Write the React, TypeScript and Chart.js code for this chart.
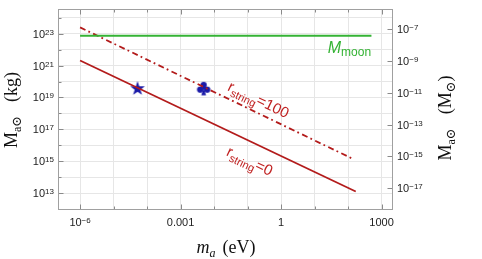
import React, { useEffect, useRef } from "react";
import { Chart, registerables } from "chart.js";
Chart.register(...registerables);

const KG_PER_MSUN = 1.989e30;

// axis ranges (eV, kg)
const X_RANGE = [2.35e-7, 2.2e3];
const Y_RANGE = [8.7e11, 3.55e24];

// series
const moonX = [1e-6, 500];
const moonY = [7.35e22, 7.35e22];
const r0X = [1e-6, 170];
const r0Y = [2.1e21, 1.25e13];
const r100X = [1e-6, 150];
const r100Y = [2.5e23, 1.3e15];
const starX = [5.2e-5];
const starY = [3.9e19];
const clubX = [4.9e-3];
const clubY = [3.5e19];

// ticks
const xGridExps = [-6, -5, -4, -3, -2, -1, 0, 1, 2, 3];
const xTickVals = [1e-6, 1e-3, 1, 1e3];
const xTickLabels = ["10^−6", "0.001", "1", "1000"];
const yGridExps = [12, 13, 14, 15, 16, 17, 18, 19, 20, 21, 22, 23, 24];
const yLeftExps = [13, 15, 17, 19, 21, 23];
const yRightExps = [-17, -15, -13, -11, -9, -7];

const RED = "#b31b1b";
const GREEN = "#35b335";
const BLUE = "#1a1aa8";
const SANS = '"Liberation Sans", Arial, sans-serif';
const SERIF = '"Liberation Serif", "Times New Roman", serif';

type Part = { t: string; font: string; dy?: number; gap?: number; color?: string };

function drawRich(ctx: CanvasRenderingContext2D, parts: Part[], x: number, y: number, align: "left" | "center" | "right") {
  let w = 0;
  for (const p of parts) {
    ctx.font = p.font;
    w += (p.gap || 0) + (p.t ? ctx.measureText(p.t).width : 0);
  }
  let cx = align === "left" ? x : align === "center" ? x - w / 2 : x - w;
  ctx.textBaseline = "alphabetic";
  ctx.textAlign = "left";
  for (const p of parts) {
    ctx.font = p.font;
    cx += p.gap || 0;
    if (p.t) {
      const prev = ctx.fillStyle;
      if (p.color) ctx.fillStyle = p.color;
      ctx.fillText(p.t, cx, y + (p.dy || 0));
      ctx.fillStyle = prev;
      cx += ctx.measureText(p.t).width;
    }
  }
}

function powParts(label: string): Part[] {
  if (label.startsWith("10^")) {
    return [
      { t: "10", font: `11px ${SANS}` },
      { t: label.slice(3), font: `8px ${SANS}`, dy: -3 },
    ];
  }
  return [{ t: label, font: `11px ${SANS}` }];
}

function makeStar(color: string) {
  const c = document.createElement("canvas");
  c.width = 18;
  c.height = 18;
  const g = c.getContext("2d")!;
  g.fillStyle = color;
  g.beginPath();
  for (let i = 0; i < 10; i++) {
    const rad = i % 2 ? 3.0 : 7.6;
    const ang = -Math.PI / 2 + (i * Math.PI) / 5;
    const px = 9 + rad * Math.cos(ang);
    const py = 9.7 + rad * Math.sin(ang);
    if (i) g.lineTo(px, py);
    else g.moveTo(px, py);
  }
  g.closePath();
  g.fill();
  return c;
}

function makeClub(color: string) {
  const c = document.createElement("canvas");
  c.width = 20;
  c.height = 20;
  const g = c.getContext("2d")!;
  g.fillStyle = color;
  const r = 3.1;
  const circ = (x: number, y: number) => {
    g.beginPath();
    g.arc(x, y, r, 0, Math.PI * 2);
    g.fill();
  };
  circ(10, 6);
  circ(6.4, 10.8);
  circ(13.6, 10.8);
  g.beginPath();
  g.moveTo(10, 6);
  g.lineTo(6.4, 10.8);
  g.lineTo(13.6, 10.8);
  g.closePath();
  g.fill();
  g.beginPath();
  g.moveTo(10, 9);
  g.lineTo(7.6, 16.6);
  g.lineTo(12.4, 16.6);
  g.closePath();
  g.fill();
  return c;
}

const pts = (xs: number[], ys: number[]) => xs.map((x, i) => ({ x, y: ys[i] }));

const decor = {
  id: "decor",
  afterDraw(chart: any) {
    const { ctx, chartArea: a, scales } = chart;
    const sx = scales.x, sy = scales.y, sy2 = scales.y2;
    const L = Math.round(a.left) - 0.5, R = Math.round(a.right) - 0.5;
    const T = Math.round(a.top) + 0.5, B = Math.round(a.bottom) - 0.5;
    ctx.save();
    // tick marks
    ctx.strokeStyle = "#8a8a8a";
    ctx.lineWidth = 1;
    ctx.beginPath();
    for (const e of xGridExps) {
      const px = Math.round(sx.getPixelForValue(Math.pow(10, e))) + 0.5;
      const len = xTickVals.some((v) => Math.abs(Math.log10(v) - e) < 1e-9) ? 5 : 3;
      ctx.moveTo(px, B);
      ctx.lineTo(px, B - len);
      ctx.moveTo(px, T);
      ctx.lineTo(px, T + len);
    }
    for (const e of yGridExps) {
      const py = Math.round(sy.getPixelForValue(Math.pow(10, e))) + 0.5;
      const len = yLeftExps.includes(e) ? 5 : 3;
      ctx.moveTo(L, py);
      ctx.lineTo(L + len, py);
    }
    for (const e of yRightExps) {
      const py = Math.round(sy2.getPixelForValue(Math.pow(10, e))) + 0.5;
      ctx.moveTo(R, py);
      ctx.lineTo(R - 5, py);
    }
    ctx.stroke();
    // frame
    ctx.strokeStyle = "#a0a0a0";
    ctx.strokeRect(L, T, R - L, B - T);

    // tick labels
    ctx.fillStyle = "#222";
    xTickVals.forEach((v, i) => {
      drawRich(ctx, powParts(xTickLabels[i]), sx.getPixelForValue(v), a.bottom + 16, "center");
    });
    for (const e of yLeftExps) {
      const py = sy.getPixelForValue(Math.pow(10, e));
      drawRich(ctx, powParts("10^" + e), a.left - 5, py + 4, "right");
    }
    for (const e of yRightExps) {
      const py = sy2.getPixelForValue(Math.pow(10, e));
      drawRich(ctx, powParts("10^" + String(e).replace("-", "−")), a.right + 4, py + 4, "left");
    }

    // axis titles
    ctx.fillStyle = "#111";
    drawRich(
      ctx,
      [
        { t: "m", font: `italic 18px ${SERIF}` },
        { t: "a", font: `italic 12px ${SERIF}`, dy: 4 },
        { t: "(eV)", font: `18px ${SERIF}`, gap: 7 },
      ],
      (a.left + a.right) / 2,
      253,
      "center"
    );
    const leftTitle: Part[] = [
      { t: "M", font: `18px ${SERIF}` },
      { t: "a", font: `12px ${SERIF}`, dy: 4 },
      { t: "⊙", font: `13px "DejaVu Serif"`, dy: 4 },
      { t: "(kg)", font: `18px ${SERIF}`, gap: 14 },
    ];
    ctx.save();
    ctx.translate(16.5, 110);
    ctx.rotate(-Math.PI / 2);
    drawRich(ctx, leftTitle, 0, 0, "center");
    ctx.restore();
    const rightTitle: Part[] = [
      { t: "M", font: `18px ${SERIF}` },
      { t: "a", font: `12px ${SERIF}`, dy: 4 },
      { t: "⊙", font: `13px "DejaVu Serif"`, dy: 4 },
      { t: "(M", font: `18px ${SERIF}`, gap: 14 },
      { t: "⊙", font: `13px "DejaVu Serif"`, dy: 4 },
      { t: ")", font: `18px ${SERIF}` },
    ];
    ctx.save();
    ctx.translate(451, 118);
    ctx.rotate(-Math.PI / 2);
    drawRich(ctx, rightTitle, 0, 0, "center");
    ctx.restore();

    // curve labels
    ctx.fillStyle = GREEN;
    drawRich(
      ctx,
      [
        { t: "M", font: `italic 16px ${SANS}` },
        { t: "moon", font: `12px ${SANS}`, dy: 3 },
      ],
      sx.getPixelForValue(24.8),
      sy.getPixelForValue(6.2e21),
      "left"
    );
    const angOf = (xs: number[], ys: number[]) =>
      Math.atan2(
        sy.getPixelForValue(ys[1]) - sy.getPixelForValue(ys[0]),
        sx.getPixelForValue(xs[1]) - sx.getPixelForValue(xs[0])
      );
    ctx.fillStyle = "#c02222";
    const lab = (xs: number[], ys: number[], at: number[], tail: string) => {
      ctx.save();
      ctx.translate(sx.getPixelForValue(at[0]), sy.getPixelForValue(at[1]));
      ctx.rotate(angOf(xs, ys));
      drawRich(
        ctx,
        [
          { t: "r", font: `15px ${SANS}` },
          { t: "string", font: `11px ${SANS}`, dy: 4 },
          { t: tail, font: `15px ${SANS}` },
        ],
        0,
        0,
        "center"
      );
      ctx.restore();
    };
    lab(r100X, r100Y, [0.183, 3.8e18], "=100");
    lab(r0X, r0Y, [0.1, 5.4e14], "=0");
    ctx.restore();
  },
};

export default function App() {
  const ref = useRef<HTMLCanvasElement>(null);
  useEffect(() => {
    document.body.style.margin = "0";
    const star = makeStar(BLUE);
    const club = makeClub(BLUE);
    const chart = new Chart(ref.current!, {
      type: "scatter",
      data: {
        datasets: [
          { data: pts(moonX, moonY), showLine: true, borderColor: GREEN, borderWidth: 2, pointRadius: 0 },
          { data: pts(r0X, r0Y), showLine: true, borderColor: RED, borderWidth: 1.8, pointRadius: 0 },
          {
            data: pts(r100X, r100Y),
            showLine: true,
            borderColor: RED,
            borderWidth: 1.8,
            borderDash: [6, 3.2, 1.8, 3.5],
            pointRadius: 0,
          },
          { data: pts(starX, starY), pointStyle: star as any, pointRadius: 8, showLine: false },
          { data: pts(clubX, clubY), pointStyle: club as any, pointRadius: 8, showLine: false },
        ] as any,
      },
      options: {
        responsive: false,
        animation: false,
        devicePixelRatio: 1,
        layout: { padding: { top: 4, left: 0, right: 0, bottom: 0 } },
        plugins: { legend: { display: false }, tooltip: { enabled: false } },
        scales: {
          x: {
            type: "logarithmic",
            position: "bottom",
            min: X_RANGE[0],
            max: X_RANGE[1],
            ticks: { display: false },
            grid: { color: "#e6e6e6", drawTicks: false },
            border: { display: false },
            afterBuildTicks: (s: any) => {
              s.ticks = xGridExps.map((e) => ({ value: Math.pow(10, e) }));
            },
            afterFit: (s: any) => {
              s.height = 49;
            },
          },
          y: {
            type: "logarithmic",
            position: "left",
            min: Y_RANGE[0],
            max: Y_RANGE[1],
            ticks: { display: false },
            grid: { color: "#e6e6e6", drawTicks: false },
            border: { display: false },
            afterBuildTicks: (s: any) => {
              s.ticks = yGridExps.map((e) => ({ value: Math.pow(10, e) }));
            },
            afterFit: (s: any) => {
              s.width = 59;
            },
          },
          y2: {
            type: "logarithmic",
            position: "right",
            min: Y_RANGE[0] / KG_PER_MSUN,
            max: Y_RANGE[1] / KG_PER_MSUN,
            ticks: { display: false },
            grid: { display: false, drawTicks: false },
            border: { display: false },
            afterFit: (s: any) => {
              s.width = 89;
            },
          },
        },
      } as any,
      plugins: [decor],
    });
    return () => chart.destroy();
  }, []);
  return (
    <div style={{ position: "absolute", left: 0, top: 0, width: 482, height: 259 }}>
      <canvas ref={ref} width={482} height={259} style={{ width: 482, height: 259 }} />
    </div>
  );
}
